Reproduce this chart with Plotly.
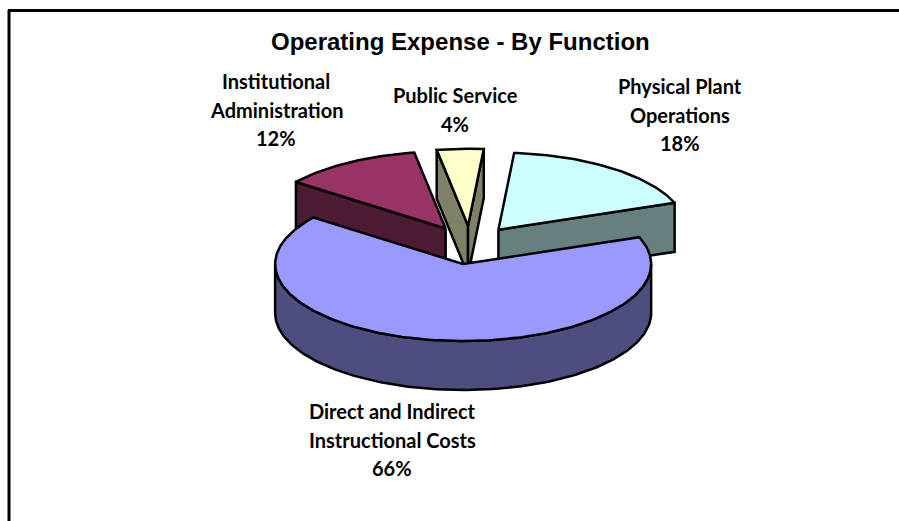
import math
import plotly.graph_objects as go

# Operating expense shares, in drawing order clockwise from the start angle
categories = ["Physical Plant Operations", "Direct and Indirect Instructional Costs",
              "Institutional Administration", "Public Service"]
values = [18, 66, 12, 4]
label_lines = [["Physical Plant", "Operations"],
               ["Direct and Indirect", "Instructional Costs"],
               ["Institutional", "Administration"],
               ["Public Service"]]
label_centers = [(680, 86), (392, 411), (276, 81), (455, 95)]
top_colors = ["#CCFFFF", "#9999FF", "#993366", "#FFFFCC"]
side_colors = ["#668080", "#4D4D80", "#4D1A33", "#808066"]
title = "Operating Expense - By Function"

# Projection of the tilted disc onto the plot, in plot units
CX, CY = 470, 245
RX, RY = 188, 77
DEPTH = 49
EXPLODE = 0.25
START_DEG = 4.8
LINE = dict(color="black", width=2.5)


def pt(deg, ox, oy, drop=0.0):
    a = math.radians(deg)
    return ox + RX * math.sin(a), oy - RY * math.cos(a) + drop


def arc(a0, a1, ox, oy, drop=0.0):
    n = max(2, int(abs(a1 - a0)))
    return [pt(a0 + (a1 - a0) * i / n, ox, oy, drop) for i in range(n + 1)]


def poly(points, color):
    pts = points + [points[0]]
    return go.Scatter(x=[p[0] for p in pts], y=[p[1] for p in pts], mode="lines",
                      fill="toself", fillcolor=color, line=LINE,
                      hoverinfo="skip", showlegend=False)


# Angular extents and exploded apex of every slice
total = sum(values)
slices = []
angle = START_DEG
for v in values:
    span = 360 * v / total
    mid = angle + span / 2
    ox, oy = pt(mid, 0, 0)
    slices.append((angle, angle + span, CX + EXPLODE * ox, CY + EXPLODE * oy))
    angle += span


def cut_wall(deg, s):
    ox, oy = s[2], s[3]
    tip = pt(deg, ox, oy)
    return [(ox, oy), tip, (tip[0], tip[1] + DEPTH), (ox, oy + DEPTH)]


def rim(s):
    # Outer wall only where the rim faces the viewer (90 to 270 degrees)
    a0, a1 = max(s[0], 90), min(s[1], 270)
    return arc(a0, a1, s[2], s[3]) + arc(a1, a0, s[2], s[3], DEPTH)


def top(s):
    return [(s[2], s[3])] + arc(s[0], s[1], s[2], s[3])


phys, direct, inst, pub = slices
traces = [
    poly(cut_wall(phys[1], phys), side_colors[0]),
    poly(top(phys), top_colors[0]),
    poly(cut_wall(inst[0], inst), side_colors[2]),
    poly(top(inst), top_colors[2]),
    poly(cut_wall(pub[0], pub), side_colors[3]),
    poly(cut_wall(pub[1], pub), side_colors[3]),
    poly(top(pub), top_colors[3]),
    poly(rim(direct), side_colors[1]),
    poly(top(direct), top_colors[1]),
]

fig = go.Figure(traces)

# Category names followed by the percentage, one annotation per text line
LINE_STEP = 28.5
annotations = []
for lines, v, (lx, ly) in zip(label_lines, values, label_centers):
    for i, text in enumerate(lines + [f"{v}%"]):
        annotations.append(dict(x=lx, y=ly + i * LINE_STEP, text=f"<b>{text}</b>",
                                showarrow=False, xanchor="center", yanchor="middle",
                                font=dict(family="Lato", size=20, color="black")))
annotations.append(dict(x=460.5, y=41, text=f"<b>{title}</b>", showarrow=False,
                        xanchor="center", yanchor="middle",
                        font=dict(family="Liberation Sans", size=24, color="black")))

fig.update_layout(
    width=899, height=521, margin=dict(l=0, r=0, t=0, b=0),
    paper_bgcolor="white", plot_bgcolor="white",
    xaxis=dict(range=[0, 899], visible=False, fixedrange=True),
    yaxis=dict(range=[521, 0], visible=False, fixedrange=True),
    annotations=annotations,
    shapes=[
        dict(type="line", x0=9, x1=9, y0=10, y1=521, line=dict(color="black", width=3)),
        dict(type="line", x0=8, x1=899, y0=10.5, y1=10.5, line=dict(color="black", width=3)),
    ],
)
fig.write_html("out.html")
